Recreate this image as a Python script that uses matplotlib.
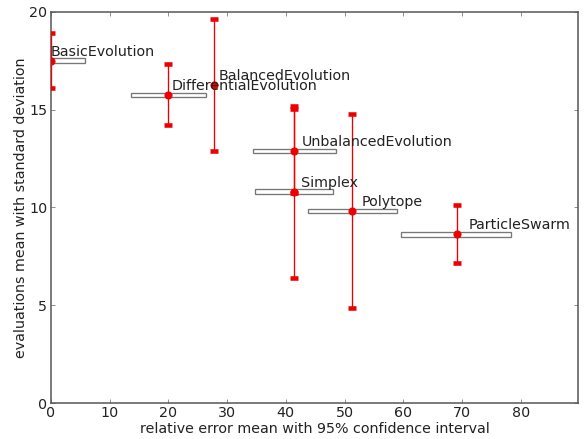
import matplotlib
matplotlib.use("Agg")
import matplotlib.pyplot as plt
from matplotlib.patches import Rectangle

names = ["BasicEvolution", "DifferentialEvolution", "BalancedEvolution",
         "UnbalancedEvolution", "Simplex", "Polytope", "ParticleSwarm"]
err_mean = [0.0, 20.0, 27.8, 41.4, 41.4, 51.3, 69.1]
ci_low = [0.0, 13.6, 27.5, 34.4, 34.75, 43.7, 59.7]
ci_high = [5.8, 26.4, 28.1, 48.5, 48.1, 58.9, 78.4]
eval_mean = [17.5, 15.75, 16.27, 12.89, 10.8, 9.82, 8.63]
eval_std = [1.41, 1.56, 3.37, 2.15, 4.41, 4.94, 1.47]

fig = plt.figure(figsize=(8, 6.0137), dpi=73)
ax = fig.add_axes([0.0873, 0.082, 0.9027, 0.891])

box_h = 0.24
for lo, hi, y in zip(ci_low, ci_high, eval_mean):
    ax.add_patch(Rectangle((lo, y - box_h / 2), hi - lo, box_h,
                           facecolor="white", edgecolor="#777777",
                           linewidth=1.3, zorder=2))

ax.errorbar(err_mean, eval_mean, yerr=eval_std, fmt="o", color="#ee0000",
            ecolor="#ee0000", markersize=7, elinewidth=1.3, capsize=3.5,
            capthick=4.5, zorder=3, clip_on=True)

for n, x, y in zip(names, err_mean, eval_mean):
    ax.text(x * 1.03, y + 0.45, n, fontsize=14, va="center", ha="left",
            color="#222222", zorder=4)

ax.set_xlim(0, 89.8)
ax.set_ylim(0, 20)
ax.set_xticks(range(0, 81, 10))
ax.set_yticks(range(0, 21, 5))
for s in ax.spines.values():
    s.set_color("#555555")
    s.set_linewidth(1.5)
ax.tick_params(direction="in", top=True, right=True, length=4, width=0.8,
               color="#777777", labelsize=14, labelcolor="#222222")
ax.tick_params(axis="x", pad=3)
ax.set_xlabel("relative error mean with 95% confidence interval", fontsize=14,
              color="#222222", labelpad=2)
ax.set_ylabel("evaluations mean with standard deviation", fontsize=14,
              color="#222222", labelpad=1)

fig.savefig("out.png", dpi=73)
